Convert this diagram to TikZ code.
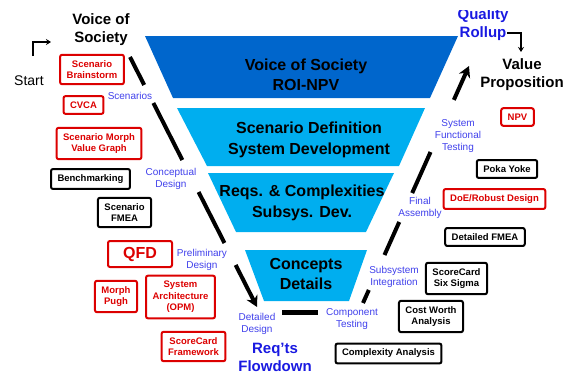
\documentclass[tikz,border=0pt]{standalone}
\usepackage{fontspec}
\setmainfont{Liberation Sans}
\usetikzlibrary{arrows.meta, calc}
\definecolor{topband}{RGB}{0, 102, 204}
\definecolor{lowband}{RGB}{0, 174, 239}
\definecolor{phaseblue}{RGB}{64, 64, 235}
\definecolor{flowblue}{RGB}{25, 25, 225}
\definecolor{toolred}{RGB}{220, 0, 0}

\begin{document}
\begin{tikzpicture}[
    x=1pt, y=-1pt,
    bandtext/.style={align=center, font=\fontsize{16}{20.5}\selectfont\bfseries},
    heading/.style={align=center, font=\fontsize{15}{18}\selectfont\bfseries},
    phase/.style={align=center, text=phaseblue, inner sep=1pt, font=\fontsize{10}{12}\selectfont},
    tool/.style={rectangle, rounded corners=2pt, draw=black, line width=2pt, align=center, inner xsep=6.5pt, inner ysep=5.5pt, font=\fontsize{9.5}{11.5}\selectfont\bfseries},
    redtool/.style={tool, draw=toolred, text=toolred},
    vline/.style={line width=4pt},
    varrow/.style={line width=4pt, -{Stealth[length=11pt, width=12pt]}},
    elbow/.style={line width=1.6pt, -{Stealth[length=5pt, width=6pt]}}
]
    \useasboundingbox (0,0) rectangle (563,375);

    % funnel
    \fill[topband] (145,36) -- (458,36) -- (430,98) -- (173,98) -- cycle;
    \fill[lowband] (177,108) -- (425,108) -- (399,166) -- (207,166) -- cycle;
    \fill[lowband] (208,173) -- (394,173) -- (366,232) -- (236,232) -- cycle;
    \fill[lowband] (245,250) -- (367,250) -- (349,301) -- (264,301) -- cycle;

    \node[bandtext] (vos) at (306,75) {Voice of Society\\ROI-NPV};
    \node[bandtext] (scen) at (309,140) {Scenario Definition\\System Development};
    \node[bandtext] (reqs) at (302,203) {Reqs. \& Complexities\\Subsys. Dev.};
    \node[bandtext] (conc) at (306,274) {Concepts\\Details};

    % headings
    \node[heading] (society) at (101,30) {Voice of\\Society};
    \node[font=\fontsize{14}{16}\selectfont] (start) at (29,81) {Start};
    \begin{scope}
        \clip (440,10.5) rectangle (530,50);
        \node[heading, text=flowblue] (rollup) at (483,25) {Quality\\Rollup};
    \end{scope}
    \node[heading] (value) at (522,75) {Value\\Proposition};
    \node[heading, text=flowblue] (flowdown) at (275,357) {Req'ts\\Flowdown};

    % phases
    \node[phase] (scenarios) at (130,96) {Scenarios};
    \node[phase] (concept) at (171,179) {Conceptual\\Design};
    \node[phase] (prelim) at (202,259.5) {Preliminary\\Design};
    \node[phase] (detail) at (257,323.5) {Detailed\\Design};
    \node[phase] (comptest) at (352,319) {Component\\Testing};
    \node[phase] (integ) at (394,277) {Subsystem\\Integration};
    \node[phase] (assembly) at (420,208) {Final\\Assembly};
    \node[phase] (systest) at (458,136) {System\\Functional\\Testing};

    % tools, left
    \node[redtool] (bstorm) at (92,69.5) {Scenario\\Brainstorm};
    \node[redtool] (cvca) at (83.5,105) {CVCA};
    \node[redtool] (morph) at (99,143.5) {Scenario Morph\\Value Graph};
    \node[tool] (bench) at (90.5,179) {Benchmarking};
    \node[tool] (sfmea) at (124.5,212.5) {Scenario\\FMEA};
    \node[redtool, font=\fontsize{16}{18}\selectfont\bfseries, minimum width=64pt, minimum height=26pt] (qfd) at (140,254) {QFD};
    \node[redtool] (pugh) at (116,296.5) {Morph\\Pugh};
    \node[redtool] (opm) at (180.5,297) {System\\Architecture\\(OPM)};
    \node[redtool] (scframe) at (193.5,346.5) {ScoreCard\\Framework};

    % tools, right
    \node[redtool] (npv) at (517.5,117) {NPV};
    \node[tool] (poka) at (507,169) {Poka Yoke};
    \node[redtool] (doe) at (494.5,199) {DoE/Robust Design};
    \node[tool] (dfmea) at (485,237) {Detailed FMEA};
    \node[tool] (sixsigma) at (456.5,278.5) {ScoreCard\\Six Sigma};
    \node[tool] (costworth) at (431,316.5) {Cost Worth\\Analysis};
    \node[tool] (complexity) at (388.5,353.5) {Complexity Analysis};

    % the V
    \coordinate (vleft) at (130,57);
    \coordinate (vleftend) at (257,307);
    \coordinate (vright) at (363,303);
    \coordinate (vrightend) at (469,66);
    \coordinate (vbase1) at (282,312);
    \coordinate (vbase2) at (318,312);

    \foreach \a/\b in {0/0.112, 0.184/0.412, 0.54/0.744}
        \draw[vline] ($(vleft)!\a!(vleftend)$) -- ($(vleft)!\b!(vleftend)$);
    \draw[varrow] ($(vleft)!0.832!(vleftend)$) -- (vleftend);
    \draw[line width=5pt] (vbase1) -- (vbase2);
    \foreach \a/\b in {0/0.055, 0.2025/0.342, 0.464/0.637}
        \draw[vline] ($(vright)!\a!(vrightend)$) -- ($(vright)!\b!(vrightend)$);
    \draw[varrow] ($(vright)!0.857!(vrightend)$) -- (vrightend);

    % start and end arrows
    \coordinate (startfoot) at (33,56);
    \coordinate (starttip) at (51,42);
    \draw[elbow] (startfoot) |- (starttip);
    \coordinate (rollfoot) at (507,33);
    \coordinate (valuetip) at (521,52);
    \draw[elbow] (rollfoot) -| (valuetip);

\end{tikzpicture}
\end{document}
